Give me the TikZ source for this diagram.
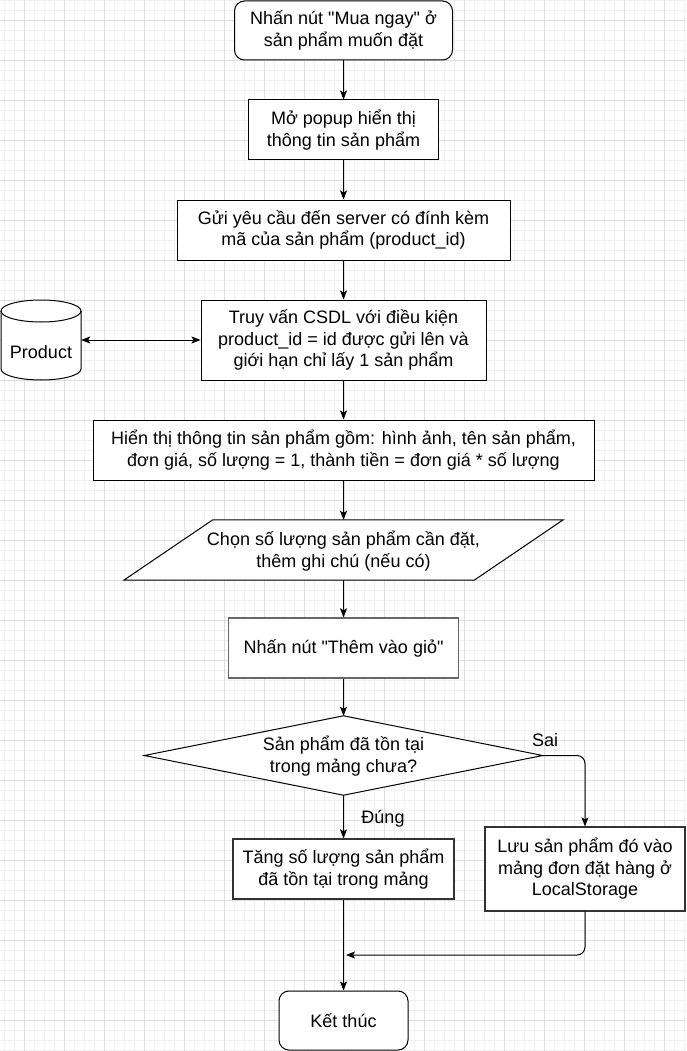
\documentclass[tikz,border=0pt]{standalone}
\usepackage{fontspec}
\setmainfont{Liberation Sans}[Ligatures=TeXOff]
\usetikzlibrary{arrows.meta,calc}
\newcommand\flowfont{\fontsize{18}{21.5}\selectfont}
\begin{document}
\begin{tikzpicture}[x=1pt,y=-1pt,
  box/.style={draw, line width=1pt, align=center, inner sep=0pt, font=\flowfont},
  rbox/.style={box, rounded corners=10pt},
  ghost/.style={align=center, inner sep=0pt, font=\flowfont},
  arr/.style={-{Stealth[length=9pt,width=7pt,inset=2pt]}, line width=1pt},
  darr/.style={{Stealth[length=9pt,width=7pt,inset=2pt]}-{Stealth[length=9pt,width=7pt,inset=2pt]}, line width=1pt},
  minorgrid/.style={draw=black!6, line width=0.8pt},
  majorgrid/.style={draw=black!13, line width=0.8pt},
  lbl/.style={font=\flowfont, inner sep=0pt}
]
\useasboundingbox (0,0) rectangle (686,1051);
\fill[white] (0,0) rectangle (686,1051);
% grid
\foreach \x in {4,14,...,684} \draw[minorgrid] (\x,0) -- (\x,1051);
\foreach \y in {0,10,...,1050} \draw[minorgrid] (0,\y) -- (686,\y);
\foreach \x in {24,64,...,684} \draw[majorgrid] (\x,0) -- (\x,1051);
\foreach \y in {20,60,...,1050} \draw[majorgrid] (0,\y) -- (686,\y);

% nodes
\node[rbox, fill=white, minimum width=218, minimum height=59] (s) at (343.5,30.5) {Nhấn nút "Mua ngay" ở\\sản phẩm muốn đặt};
\node[box, fill=white, minimum width=190, minimum height=60] (p) at (343.5,130) {Mở popup hiển thị\\thông tin sản phẩm};
\node[box, fill=white, minimum width=333, minimum height=60] (g) at (343.5,230) {Gửi yêu cầu đến server có đính kèm\\mã của sản phẩm (product\_id)};
\node[box, fill=white, minimum width=285, minimum height=80] (q) at (343.5,340) {Truy vấn CSDL với điều kiện\\product\_id = id được gửi lên và\\giới hạn chỉ lấy 1 sản phẩm};
\node[box, fill=white, minimum width=501, minimum height=60] (h) at (343.5,450) {Hiển thị thông tin sản phẩm gồm: hình ảnh, tên sản phẩm,\\đơn giá, số lượng = 1, thành tiền = đơn giá * số lượng};

% cylinder
\node[ghost, minimum width=80, minimum height=80] (db) at (41,340) {};
\fill[white] (1,311) -- (1,369) arc[start angle=180,end angle=360,x radius=40pt,y radius=11pt] -- (81,311) arc[start angle=0,end angle=180,x radius=40pt,y radius=11pt] -- cycle;
\draw[line width=1pt] (1,311) -- (1,369) arc[start angle=180,end angle=360,x radius=40pt,y radius=11pt] -- (81,311);
\draw[line width=1pt] (41,311) ellipse[x radius=40pt,y radius=11pt];
\node[lbl] at (41,352) {Product};

% parallelogram
\node[ghost, minimum width=439, minimum height=60] (c) at (343.5,550) {};
\filldraw[fill=white, line width=1pt] ($(c.north west)+(89,0)$) -- (c.north east) -- ($(c.south east)-(89,0)$) -- (c.south west) -- cycle;
\node[ghost] at (343.5,551) {Chọn số lượng sản phẩm cần đặt,\\thêm ghi chú (nếu có)};

\node[box, fill=white, draw=black!60, line width=1.5pt, minimum width=230, minimum height=60] (t2) at (343.5,648) {Nhấn nút "Thêm vào giỏ"};

% diamond
\node[ghost, minimum width=398, minimum height=79] (d) at (343.5,755.5) {};
\filldraw[fill=white, line width=1pt] (d.west) -- (d.north) -- (d.east) -- (d.south) -- cycle;
\node[ghost] at (343.5,756) {Sản phẩm đã tồn tại\\trong mảng chưa?};

\node[box, fill=white, draw=black!80, line width=1.3pt, minimum width=221, minimum height=60] (t) at (343.5,869) {Tăng số lượng sản phẩm\\đã tồn tại trong mảng};
\node[box, fill=white, draw=black!80, line width=1.3pt, minimum width=200, minimum height=84] (l) at (585,869) {Lưu sản phẩm đó vào\\mảng đơn đặt hàng ở\\LocalStorage};
\node[rbox, fill=white, minimum width=129, minimum height=59] (k) at (343.5,1020.5) {Kết thúc};

\coordinate (m) at (346,955);

% edges
\draw[arr] (s) -- (p);
\draw[arr] (p) -- (g);
\draw[arr] (g) -- (q);
\draw[darr] (db.east) -- (q.west);
\draw[arr] (q) -- (h);
\draw[arr] (h) -- (c);
\draw[arr] (c) -- (t2);
\draw[arr] (t2) -- (d.north);
\draw[arr, rounded corners=8pt] (d.east) -| (l.north);
\draw[arr] (d.south) -- (t.north);
\draw[arr] (t) -- (k);
\draw[arr, rounded corners=8pt] (l.south) |- (m);

% labels
\node[lbl] at (545,740) {Sai};
\node[lbl] at (383,819) {Đúng};
\end{tikzpicture}
\end{document}
